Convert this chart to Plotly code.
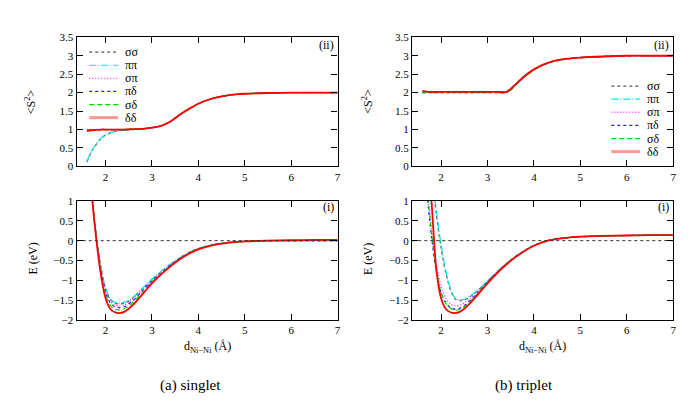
import plotly.graph_objects as go

# --- data --------------------------------------------------------------
series_names = ['σσ', 'ππ', 'σπ', 'πδ', 'σδ', 'δδ']

# <S^2> panels
s2_x_singlet = [1.6, 1.7, 1.8, 1.9, 2.0, 2.2, 2.4, 2.6, 2.8, 3.0, 3.2, 3.4,
                3.6, 3.8, 4.0, 4.2, 4.4, 4.6, 4.8, 5.0, 5.5, 6.0, 6.5, 7.0]
s2_singlet = {
    'σσ': [0.12, 0.40, 0.60, 0.75, 0.85, 0.95, 0.98, 1.00, 1.02, 1.05, 1.10, 1.22,
           1.40, 1.56, 1.70, 1.80, 1.87, 1.92, 1.95, 1.97, 1.99, 2.00, 2.00, 2.00],
    'ππ': [0.14, 0.42, 0.62, 0.76, 0.86, 0.95, 0.98, 1.00, 1.02, 1.05, 1.10, 1.22,
           1.40, 1.56, 1.70, 1.80, 1.87, 1.92, 1.95, 1.97, 1.99, 2.00, 2.00, 2.00],
    'σπ': [1.00, 1.00, 1.00, 1.00, 1.00, 1.00, 1.00, 1.01, 1.02, 1.05, 1.10, 1.22,
           1.40, 1.56, 1.70, 1.80, 1.87, 1.92, 1.95, 1.97, 1.99, 2.00, 2.00, 2.00],
    'πδ': [1.00, 1.00, 1.00, 1.00, 1.00, 1.00, 1.00, 1.01, 1.02, 1.05, 1.10, 1.22,
           1.40, 1.56, 1.70, 1.80, 1.87, 1.92, 1.95, 1.97, 1.99, 2.00, 2.00, 2.00],
    'σδ': [1.00, 1.00, 1.00, 1.00, 1.00, 1.00, 1.00, 1.01, 1.02, 1.05, 1.10, 1.22,
           1.40, 1.56, 1.70, 1.80, 1.87, 1.92, 1.95, 1.97, 1.99, 2.00, 2.00, 2.00],
    'δδ': [0.96, 0.98, 0.99, 1.00, 1.00, 1.00, 1.00, 1.01, 1.02, 1.05, 1.10, 1.22,
           1.40, 1.56, 1.70, 1.80, 1.87, 1.92, 1.95, 1.97, 1.99, 2.00, 2.00, 2.00],
}

s2_x_triplet = [1.6, 1.7, 1.8, 2.0, 2.2, 2.4, 2.6, 2.8, 3.0, 3.2, 3.4, 3.5,
                3.6, 3.8, 4.0, 4.2, 4.4, 4.6, 4.8, 5.0, 5.5, 6.0, 6.5, 7.0]
s2_triplet = {
    'σσ': [2.02, 2.02, 2.02, 2.02, 2.02, 2.02, 2.02, 2.02, 2.02, 2.02, 2.02, 2.09,
           2.21, 2.44, 2.62, 2.75, 2.84, 2.89, 2.93, 2.95, 2.98, 3.00, 3.00, 3.00],
    'ππ': [2.02, 2.02, 2.02, 2.02, 2.02, 2.02, 2.02, 2.02, 2.02, 2.02, 2.02, 2.09,
           2.21, 2.44, 2.62, 2.75, 2.84, 2.89, 2.93, 2.95, 2.98, 3.00, 3.00, 3.00],
    'σπ': [2.01, 2.01, 2.01, 2.01, 2.01, 2.01, 2.01, 2.01, 2.01, 2.01, 2.01, 2.08,
           2.20, 2.43, 2.62, 2.75, 2.84, 2.89, 2.93, 2.95, 2.98, 3.00, 3.00, 3.00],
    'πδ': [2.00, 2.00, 2.00, 2.00, 2.00, 2.00, 2.00, 2.00, 2.00, 2.00, 2.00, 2.07,
           2.20, 2.43, 2.62, 2.75, 2.84, 2.89, 2.93, 2.95, 2.98, 3.00, 3.00, 3.00],
    'σδ': [2.00, 2.00, 2.00, 2.00, 2.00, 2.00, 2.00, 2.00, 2.00, 2.00, 2.00, 2.06,
           2.19, 2.42, 2.61, 2.75, 2.84, 2.89, 2.93, 2.95, 2.98, 3.00, 3.00, 3.00],
    'δδ': [2.05, 2.03, 2.02, 2.02, 2.02, 2.02, 2.02, 2.02, 2.02, 2.02, 2.02, 2.10,
           2.22, 2.45, 2.63, 2.76, 2.85, 2.90, 2.93, 2.95, 2.98, 3.00, 3.00, 3.00],
}

# E (eV) panels
e_x = [1.6, 1.7, 1.8, 1.9, 2.0, 2.1, 2.2, 2.3, 2.4, 2.5, 2.6, 2.8, 3.0,
       3.2, 3.4, 3.6, 3.8, 4.0, 4.3, 4.6, 5.0, 5.5, 6.0, 6.5, 7.0]
e_singlet = {
    'σσ': [3.0, 1.25, 0.13, -0.67, -1.21, -1.48, -1.58, -1.60, -1.58, -1.53, -1.44, -1.22, -0.99,
           -0.79, -0.60, -0.44, -0.30, -0.20, -0.11, -0.05, -0.02, 0.00, 0.00, 0.00, 0.00],
    'ππ': [3.0, 1.25, 0.14, -0.65, -1.19, -1.46, -1.56, -1.58, -1.56, -1.51, -1.42, -1.20, -0.97,
           -0.77, -0.59, -0.43, -0.30, -0.19, -0.10, -0.05, -0.02, 0.00, 0.00, 0.00, 0.00],
    'σπ': [3.0, 1.25, 0.12, -0.70, -1.25, -1.52, -1.62, -1.64, -1.62, -1.56, -1.47, -1.24, -1.01,
           -0.80, -0.61, -0.44, -0.31, -0.20, -0.11, -0.05, -0.02, 0.00, 0.00, 0.00, 0.00],
    'πδ': [3.0, 1.25, 0.10, -0.74, -1.30, -1.57, -1.67, -1.69, -1.67, -1.60, -1.51, -1.27, -1.03,
           -0.82, -0.62, -0.45, -0.31, -0.21, -0.11, -0.05, -0.02, 0.00, 0.00, 0.00, 0.00],
    'σδ': [3.0, 1.25, 0.08, -0.78, -1.36, -1.63, -1.73, -1.75, -1.72, -1.65, -1.55, -1.30, -1.05,
           -0.83, -0.63, -0.46, -0.32, -0.21, -0.11, -0.05, -0.02, 0.00, 0.00, 0.01, 0.01],
    'δδ': [3.0, 1.25, 0.05, -0.85, -1.45, -1.72, -1.81, -1.83, -1.80, -1.72, -1.61, -1.35, -1.08,
           -0.85, -0.65, -0.47, -0.33, -0.22, -0.12, -0.06, -0.02, 0.00, 0.01, 0.02, 0.02],
}
e_triplet = {
    'σσ': [5.0, 3.0, 1.70, 0.65, -0.18, -0.80, -1.24, -1.47, -1.52, -1.50, -1.44, -1.25, -1.03,
           -0.80, -0.59, -0.40, -0.25, -0.12, 0.00, 0.06, 0.10, 0.12, 0.13, 0.14, 0.14],
    'ππ': [5.0, 3.0, 1.80, 0.75, -0.10, -0.75, -1.20, -1.45, -1.50, -1.48, -1.42, -1.24, -1.02,
           -0.79, -0.58, -0.40, -0.25, -0.12, 0.00, 0.06, 0.10, 0.12, 0.13, 0.14, 0.14],
    'σπ': [3.5, 1.40, 0.25, -0.60, -1.15, -1.45, -1.60, -1.65, -1.63, -1.57, -1.48, -1.27, -1.03,
           -0.80, -0.59, -0.40, -0.25, -0.12, 0.00, 0.06, 0.10, 0.12, 0.13, 0.14, 0.14],
    'πδ': [3.3, 1.20, 0.05, -0.80, -1.31, -1.56, -1.69, -1.73, -1.71, -1.64, -1.54, -1.30, -1.05,
           -0.81, -0.60, -0.41, -0.26, -0.13, 0.00, 0.06, 0.10, 0.12, 0.13, 0.14, 0.14],
    'σδ': [3.5, 1.35, 0.15, -0.75, -1.30, -1.58, -1.71, -1.76, -1.74, -1.67, -1.57, -1.32, -1.06,
           -0.82, -0.60, -0.41, -0.26, -0.13, 0.00, 0.06, 0.10, 0.12, 0.13, 0.14, 0.14],
    'δδ': [4.0, 2.40, 0.90, -0.75, -1.45, -1.72, -1.81, -1.83, -1.80, -1.72, -1.61, -1.35, -1.08,
           -0.83, -0.61, -0.42, -0.26, -0.13, 0.00, 0.06, 0.10, 0.12, 0.13, 0.14, 0.14],
}

x_ticks = [2, 3, 4, 5, 6, 7]

# --- styles --------------------------------------------------------------
FONT = 'Times New Roman, Liberation Serif, DejaVu Serif, serif'
styles = {
    'σσ': dict(color='#555555', dash='3px,3px', width=1.2),
    'ππ': dict(color='#00e5e5', dash='7px,2px,1px,2px', width=1.2),
    'σπ': dict(color='#ff33ff', dash='1px,2px', width=1.4),
    'πδ': dict(color='#2020ff', dash='3px,3px', width=1.2),
    'σδ': dict(color='#00dd00', dash='5px,3px', width=1.2),
    'δδ': dict(color='#ff0000', dash='solid', width=1.8),
}

fig = go.Figure()

# panel: (xaxis, yaxis, x data, y dict)
panels = [
    ('x', 'y', s2_x_singlet, s2_singlet),
    ('x2', 'y2', s2_x_triplet, s2_triplet),
    ('x3', 'y3', e_x, e_singlet),
    ('x4', 'y4', e_x, e_triplet),
]
for xa, ya, xs, ydict in panels:
    for name in series_names:
        fig.add_trace(go.Scatter(x=xs, y=ydict[name], mode='lines', name=name,
                                 line=dict(shape='spline', smoothing=0.8, **styles[name]),
                                 xaxis=xa, yaxis=ya, showlegend=False))

# zero reference lines in the energy panels
for xa, ya in [('x3', 'y3'), ('x4', 'y4')]:
    fig.add_trace(go.Scatter(x=[x_ticks[0] - 0.62, x_ticks[-1]], y=[0, 0], mode='lines',
                             line=dict(color='#333333', dash='3px,3px', width=1),
                             xaxis=xa, yaxis=ya, showlegend=False))

# axes
x_dom = {'left': [69 / 700, 331 / 700], 'right': [406 / 700, 668 / 700]}
y_dom = {'top': [1 - 157 / 411, 1 - 24 / 411], 'bot': [1 - 315 / 411, 1 - 192.7 / 411]}
common = dict(showline=True, mirror='ticks', linecolor='black', linewidth=1.4,
              ticks='inside', ticklen=6, tickwidth=1.3, tickcolor='black',
              showgrid=False, zeroline=False,
              tickfont=dict(family=FONT, size=11, color='black'))
axes = {
    'xaxis': dict(domain=x_dom['left'], anchor='y', range=[1.38, 7], tickvals=x_ticks),
    'xaxis2': dict(domain=x_dom['right'], anchor='y2', range=[1.38, 7], tickvals=x_ticks),
    'xaxis3': dict(domain=x_dom['left'], anchor='y3', range=[1.38, 7], tickvals=x_ticks),
    'xaxis4': dict(domain=x_dom['right'], anchor='y4', range=[1.38, 7], tickvals=x_ticks),
    'yaxis': dict(domain=y_dom['top'], anchor='x', range=[0, 3.5], dtick=0.5),
    'yaxis2': dict(domain=y_dom['top'], anchor='x2', range=[0, 3.5], dtick=0.5),
    'yaxis3': dict(domain=y_dom['bot'], anchor='x3', range=[-2, 1], dtick=0.5),
    'yaxis4': dict(domain=y_dom['bot'], anchor='x4', range=[-2, 1], dtick=0.5),
}
for k, v in axes.items():
    v.update(common)
    fig.layout[k] = v

# hand-made keys (gnuplot style key inside the top panels)
def addKey(xa, ya, x0, x1, xt, ytop, step):
    for i, name in enumerate(series_names):
        yy = ytop - i * step
        st = dict(styles[name])
        if name == 'δδ':
            st = dict(color='rgba(255,80,80,0.6)', dash='solid', width=3)
        fig.add_shape(type='line', xref=xa + ' domain', yref=ya + ' domain',
                      x0=x0, x1=x1, y0=yy, y1=yy, line=st)
        fig.add_annotation(text=name, xref=xa + ' domain', yref=ya + ' domain',
                           x=xt, y=yy, xanchor='left', yanchor='middle', showarrow=False,
                           font=dict(family=FONT, size=12, color='black'))

addKey('x', 'y', 0.048, 0.159, 0.178, 0.885, 0.1015)
addKey('x2', 'y2', 0.763, 0.874, 0.893, 0.622, 0.1015)

# texts
def addText(text, x, y, size=12, angle=0, xanchor='center'):
    fig.add_annotation(text=text, xref='paper', yref='paper', x=x, y=y,
                       xanchor=xanchor, yanchor='middle', showarrow=False, textangle=angle,
                       font=dict(family=FONT, size=size, color='black'))

addText('(ii)', 329 / 700, 1 - 32 / 411, xanchor='right')
addText('(ii)', 666 / 700, 1 - 32 / 411, xanchor='right')
addText('(i)', 329 / 700, 1 - 199 / 411, xanchor='right')
addText('(i)', 666 / 700, 1 - 199 / 411, xanchor='right')
addText('&lt;S<sup>2</sup>&gt;', 22 / 700, 1 - 90 / 411, angle=-90)
addText('&lt;S<sup>2</sup>&gt;', 361 / 700, 1 - 90 / 411, angle=-90)
addText('E (eV)', 25 / 700, 1 - 252 / 411, angle=-90)
addText('E (eV)', 361 / 700, 1 - 252 / 411, angle=-90)
addText('d<sub>Ni−Ni</sub> (Å)', 200 / 700, 1 - 343 / 411)
addText('d<sub>Ni−Ni</sub> (Å)', 537 / 700, 1 - 343 / 411)
addText('(a) singlet', 183 / 700, 1 - 383 / 411, size=15)
addText('(b) triplet', 518 / 700, 1 - 383 / 411, size=15)

fig.update_layout(width=700, height=411, autosize=False,
                  margin=dict(l=0, r=0, t=0, b=0),
                  font=dict(family=FONT, color='black'),
                  paper_bgcolor='white', plot_bgcolor='white', showlegend=False)

fig.write_html("out.html")
